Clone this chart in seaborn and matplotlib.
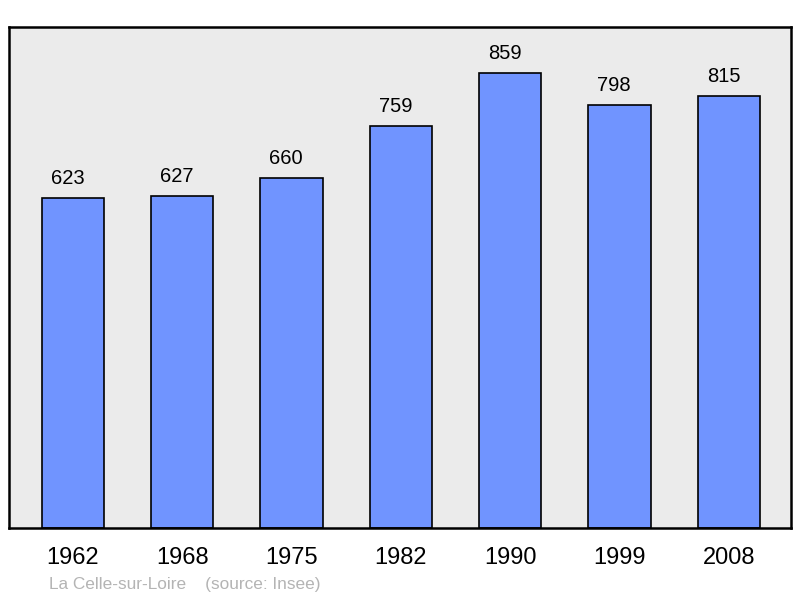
import matplotlib
matplotlib.use("Agg")
import matplotlib.pyplot as plt
import seaborn as sns
import pandas as pd

# Population de La Celle-sur-Loire (source: Insee)
years = ["1962", "1968", "1975", "1982", "1990", "1999", "2008"]
population = [623, 627, 660, 759, 859, 798, 815]

df = pd.DataFrame({"annee": years, "population": population})

sns.set_style("white")
plt.rcParams["font.family"] = ["Liberation Sans", "DejaVu Sans"]
plt.rcParams["text.color"] = "black"
plt.rcParams["xtick.color"] = "black"

fig = plt.figure(figsize=(8, 5.98), dpi=100)
ax = fig.add_axes([9 / 800, 70 / 598, 782 / 800, 501 / 598])
ax.set_facecolor("#ebebeb")

sns.barplot(data=df, x="annee", y="population", color="#7094ff",
            saturation=1, width=0.57, edgecolor="black", linewidth=1.2, ax=ax)

labels = ax.bar_label(ax.containers[0], fontsize=14.5, padding=7.5, color="black")
# les valeurs sont un peu decalees vers la gauche dans l'original
for t in labels:
    t.xyann = (-3.8, t.xyann[1])

ax.set_ylim(0, 946)
ax.set_xlim(-0.585, 6.57)
ax.set_xlabel("")
ax.set_ylabel("")
ax.set_yticks([])
ax.tick_params(axis="x", length=0, pad=13.5, labelsize=17, labelcolor="black")
for s in ax.spines.values():
    s.set_visible(True)
    s.set_linewidth(1.8)
    s.set_color("black")

fig.text(49 / 800, 1 - 584 / 598, "La Celle-sur-Loire    (source: Insee)",
         fontsize=12.4, color="#b4b4b4", va="center", ha="left")

fig.savefig("out.png", dpi=100)
